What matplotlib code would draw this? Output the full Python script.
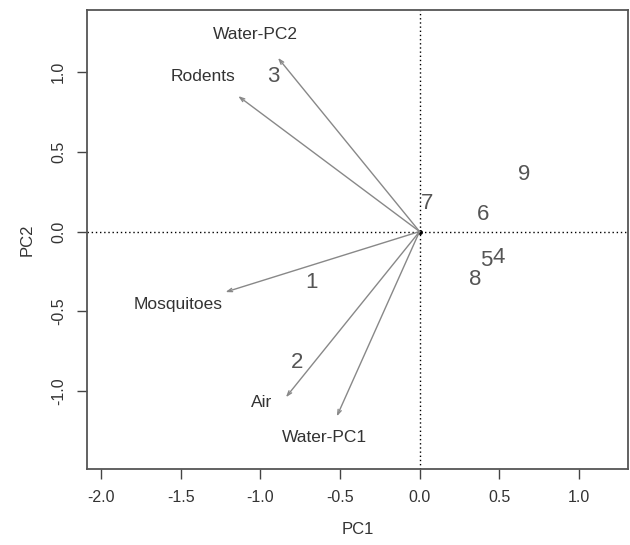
import matplotlib
matplotlib.use("Agg")
import matplotlib.pyplot as plt

plt.rcParams['font.family'] = ['Liberation Sans', 'DejaVu Sans']

# Variable loadings (arrows)
var_names = ["Water-PC2", "Rodents", "Mosquitoes", "Air", "Water-PC1"]
var_x = [-0.89, -1.14, -1.22, -0.84, -0.52]
var_y = [1.09, 0.85, -0.38, -1.04, -1.16]
var_lab_x = [-1.03, -1.36, -1.52, -0.99, -0.60]
var_lab_y = [1.235, 0.97, -0.46, -1.07, -1.29]

# Observation scores
obs_labels = ["1", "2", "3", "4", "5", "6", "7", "8", "9"]
obs_x = [-0.68, -0.77, -0.92, 0.50, 0.42, 0.40, 0.05, 0.35, 0.66]
obs_y = [-0.32, -0.82, 0.97, -0.16, -0.18, 0.11, 0.175, -0.30, 0.36]

x_ticks = [-2.0, -1.5, -1.0, -0.5, 0.0, 0.5, 1.0]
y_ticks = [-1.0, -0.5, 0.0, 0.5, 1.0]

fig = plt.figure(figsize=(6.3, 5.45), dpi=100)
ax = fig.add_axes([87/630, 1-469/545, (628-87)/630, (469-10)/545])
ax.set_xlim(-2.09, 1.31)
ax.set_ylim(-1.49, 1.39)

ax.axhline(0, color='black', linestyle=(0, (1, 2)), linewidth=1.0)
ax.axvline(0, color='black', linestyle=(0, (1, 2)), linewidth=1.0)

for x, y in zip(var_x, var_y):
    ax.annotate("", xy=(x, y), xytext=(0, 0),
                arrowprops=dict(arrowstyle='->,head_length=0.35,head_width=0.12',
                                color='#888888', lw=1.0, shrinkA=0, shrinkB=0))
for name, x, y in zip(var_names, var_lab_x, var_lab_y):
    ax.text(x, y, name, ha='center', va='center', fontsize=12.5, color='#333333')

ax.plot([0], [0], 'o', color='black', markersize=2.5)

for lab, x, y in zip(obs_labels, obs_x, obs_y):
    ax.text(x, y, lab, ha='center', va='center', fontsize=16, color='#555555')

ax.set_xticks(x_ticks)
ax.set_xticklabels([f"{v:.1f}" for v in x_ticks])
ax.set_yticks(y_ticks)
ax.set_yticklabels([f"{v:.1f}" for v in y_ticks], rotation=90, va='center')
ax.tick_params(axis='both', length=7, width=1, color='#444444', labelsize=11.5,
               labelcolor='#333333', pad=8)
for s in ax.spines.values():
    s.set_color('#555555')
    s.set_linewidth(1.3)

ax.set_xlabel("PC1", fontsize=12, color='#333333', labelpad=12)
ax.set_ylabel("PC2", fontsize=12, color='#333333', labelpad=12)

fig.savefig("out.png", dpi=100)
